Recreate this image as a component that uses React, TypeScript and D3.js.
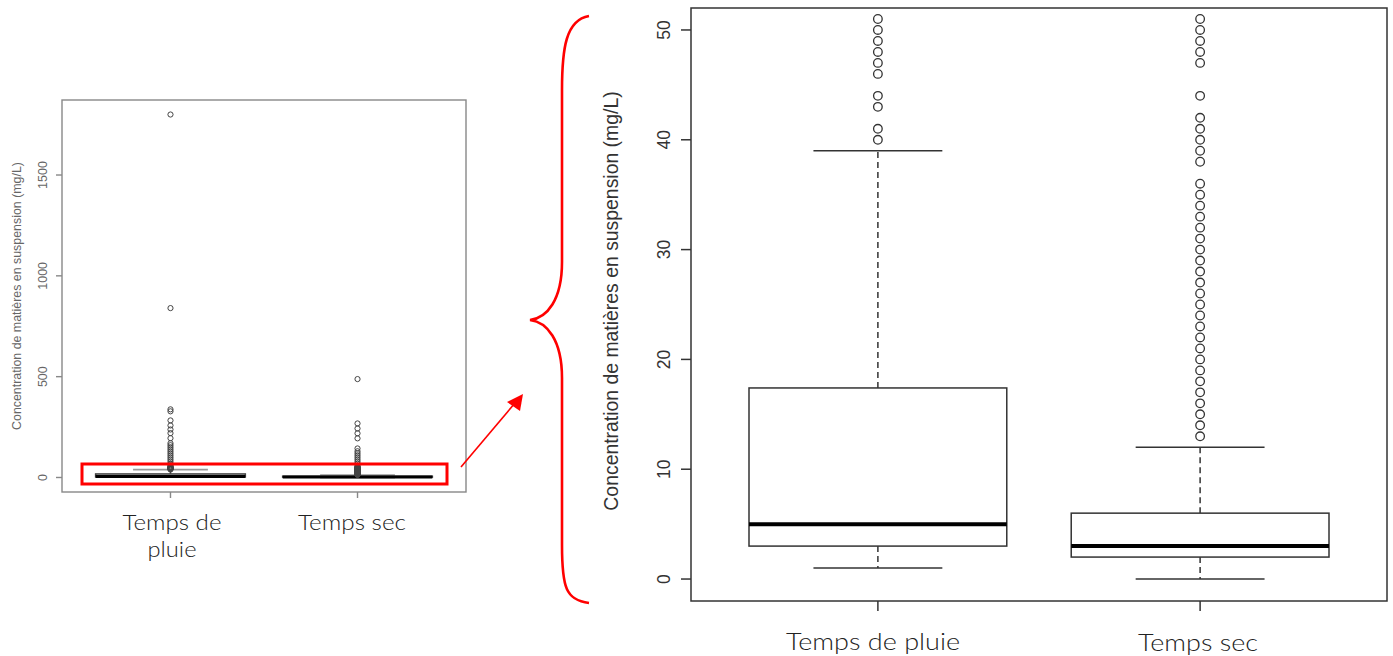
import React from 'react';
import * as d3 from 'd3';

// two groups, same stats drawn in overview and zoomed view
const categories = ['Temps de pluie', 'Temps sec'];
const overviewLabels = [['Temps de', 'pluie'], ['Temps sec']];
const whiskerLow = [1, 0];
const q1 = [3, 2];
const medians = [5, 3];
const q3 = [17.4, 6];
const whiskerHigh = [39, 12];

const outliersPluie = [40, 41, 43, 44, 46, 47, 48, 49, 50, 51, 55, 60, 65, 70, 80, 90, 100, 110, 120, 130, 140, 150, 160, 170, 195, 220, 238, 258, 283, 328, 338, 840, 1800];
const outliersSec = [13, 14, 15, 16, 17, 18, 19, 20, 21, 22, 23, 24, 25, 26, 27, 28, 29, 30, 31, 32, 33, 34, 35, 36, 38, 39, 40, 41, 42, 44, 47, 48, 49, 50, 51, 55, 60, 70, 80, 90, 100, 110, 120, 130, 144, 194, 219, 243, 268, 488];
const outliers = [outliersPluie, outliersSec];

const zoomTicks = [0, 10, 20, 30, 40, 50];
const fullTicks = [0, 500, 1000, 1500];

const yTitle = 'Concentration de matières en suspension (mg/L)';

const Panel = (props: any) => {
  const { x, y, ticks, maxOut, s } = props;
  const [x0, x1] = x.range();
  const [y0, y1] = y.range();
  return (
    <g>
      <rect x={x0} y={y1} width={x1 - x0} height={y0 - y1} fill="none" stroke={s.frame} strokeWidth={s.frameW} />
      {ticks.map((t: number) => (
        <g key={t}>
          <line x1={x0 - s.tick} x2={x0} y1={y(t)} y2={y(t)} stroke={s.frame} strokeWidth={s.frameW} />
          <text transform={`translate(${x0 - s.labelOff},${y(t)}) rotate(-90)`} textAnchor="middle"
            fontFamily="Liberation Sans, Arial, sans-serif" fontSize={s.fs} fill={s.text}>{t}</text>
        </g>
      ))}
      {categories.map((c, i) => {
        const cx = x(i + 1);
        const hw = x(i + 1.4) - cx;
        const cw = x(i + 1.2) - cx;
        return (
          <g key={c}>
            <line x1={cx} x2={cx} y1={y0} y2={y0 + s.tick} stroke={s.frame} strokeWidth={s.frameW} />
            <line x1={cx} x2={cx} y1={y(q3[i])} y2={y(whiskerHigh[i])} stroke={s.line} strokeWidth={s.lw} strokeDasharray={s.dash} />
            <line x1={cx} x2={cx} y1={y(q1[i])} y2={y(whiskerLow[i])} stroke={s.line} strokeWidth={s.lw} strokeDasharray={s.dash} />
            <line x1={cx - cw} x2={cx + cw} y1={y(whiskerHigh[i])} y2={y(whiskerHigh[i])} stroke={s.cap} strokeWidth={s.lw} />
            <line x1={cx - cw} x2={cx + cw} y1={y(whiskerLow[i])} y2={y(whiskerLow[i])} stroke={s.line} strokeWidth={s.lw} />
            <rect x={cx - hw} y={y(q3[i])} width={2 * hw} height={y(q1[i]) - y(q3[i])} fill="white" stroke={s.line} strokeWidth={s.lw} />
            <line x1={cx - hw} x2={cx + hw} y1={y(medians[i])} y2={y(medians[i])} stroke="#000" strokeWidth={s.medW} />
            {outliers[i].filter(v => v <= maxOut).map(v => (
              <circle key={v} cx={cx} cy={y(v)} r={s.r} fill="none" stroke={s.line} strokeWidth={s.cw} />
            ))}
          </g>
        );
      })}
    </g>
  );
};

const App = () => {
  const width = 1393;
  const height = 656;

  // zoomed view (right)
  const xz = d3.scaleLinear().domain([0.42, 2.58]).range([691, 1387]);
  const yz = d3.scaleLinear().domain([-2, 52]).range([601, 8]);
  // full view (left)
  const xf = d3.scaleLinear().domain([0.42, 2.58]).range([62, 466]);
  const yf = d3.scaleLinear().domain([-72, 1872]).range([492, 100]);

  const zoomStyle = { frame: '#333', frameW: 1.5, tick: 10, labelOff: 21, fs: 17.5, text: '#333', line: '#333', cap: '#333', lw: 1.5, medW: 4, dash: '6,4', r: 4.3, cw: 1.3 };
  const fullStyle = { frame: '#888', frameW: 1.4, tick: 6, labelOff: 15, fs: 12.5, text: '#666', line: '#444', cap: '#999', lw: 1.6, medW: 3, dash: 'none', r: 2.6, cw: 1.0 };

  const brace = 'M589,16 C566,20 562,48 562,90 L562,262 C562,300 547,318 530,320 C547,322 562,340 562,378 L562,545 C562,588 566,600 589,603';
  const labelFont = "Lato, 'Open Sans', sans-serif";

  return (
    <svg width={width} height={height} style={{ position: 'absolute', left: 0, top: 0, background: 'white' }}>
      <Panel x={xf} y={yf} ticks={fullTicks} maxOut={1900} s={fullStyle} />
      <text transform={`translate(21,296) rotate(-90)`} textAnchor="middle"
        fontFamily="Liberation Sans, Arial, sans-serif" fontSize={12.4} fill="#666">{yTitle}</text>
      <text textAnchor="middle" fontFamily={labelFont} fontWeight={300} fontSize={21} fill="#222">
        <tspan x={172} y={530} textLength={99} lengthAdjust="spacingAndGlyphs">{overviewLabels[0][0]}</tspan>
        <tspan x={172} y={557} textLength={49} lengthAdjust="spacingAndGlyphs">{overviewLabels[0][1]}</tspan>
      </text>
      <text x={352} y={530} textAnchor="middle" fontFamily={labelFont} fontWeight={300} fontSize={21} fill="#222"
        textLength={108} lengthAdjust="spacingAndGlyphs">{overviewLabels[1][0]}</text>
      <rect x={82} y={464} width={365} height={20} fill="none" stroke="#f00" strokeWidth={3} />
      <line x1={461} y1={467} x2={515} y2={403} stroke="#f00" strokeWidth={1.6} />
      <path d="M523,394 L507,402 L520,411 Z" fill="#f00" />
      <path d={brace} fill="none" stroke="#f00" strokeWidth={2.6} />

      <Panel x={xz} y={yz} ticks={zoomTicks} maxOut={52} s={zoomStyle} />
      <text transform={`translate(618,301) rotate(-90)`} textAnchor="middle"
        fontFamily="Liberation Sans, Arial, sans-serif" fontSize={19.4} fill="#333">{yTitle}</text>
      <text x={873} y={650} textAnchor="middle" fontFamily={labelFont} fontWeight={300} fontSize={23} fill="#222"
        textLength={174} lengthAdjust="spacingAndGlyphs">{categories[0]}</text>
      <text x={1198} y={651} textAnchor="middle" fontFamily={labelFont} fontWeight={300} fontSize={23} fill="#222"
        textLength={120} lengthAdjust="spacingAndGlyphs">{categories[1]}</text>
    </svg>
  );
};

export default App;
